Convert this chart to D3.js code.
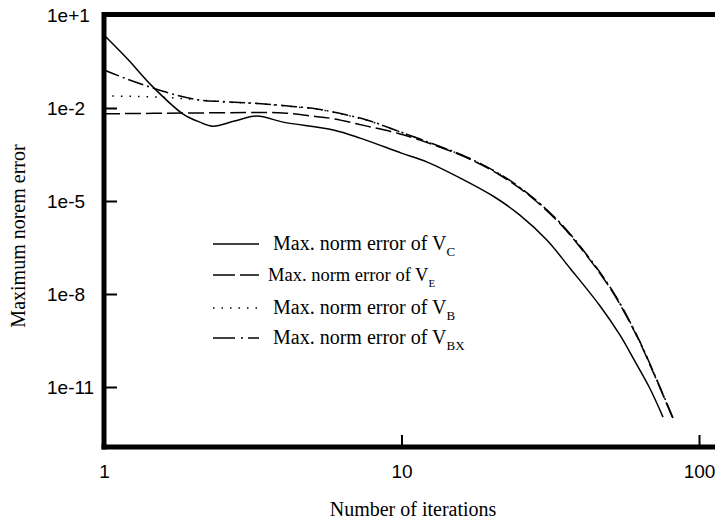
<!DOCTYPE html>
<html>
<head>
<meta charset="utf-8">
<script src="https://cdn.jsdelivr.net/npm/d3@7"></script>
<style>
  body { margin: 0; background: #fff; }
  svg { display: block; }
</style>
</head>
<body>
<div id="chart"></div>
<script>
// values
var iterC = [1, 1.2, 1.46, 1.84, 2.1, 2.32, 2.75, 3.27, 4, 5.9, 7.26, 10, 12.2, 16, 20.3, 25, 30.8, 36.8, 46.5, 54.2, 60, 68, 75.7];
var errC = [2.26, 0.38, 0.048, 6.5e-3, 3.5e-3, 2.6e-3, 3.8e-3, 5.5e-3, 3.5e-3, 1.95e-3, 1.07e-3, 3.5e-4, 1.8e-4, 5.1e-5, 1.45e-5, 3.5e-6, 5.5e-7, 6.9e-8, 4.1e-9, 4.8e-10, 8.7e-11, 1e-11, 1.07e-12];

var iterE = [1, 2, 3, 4, 5, 5.9, 7.65, 9.9, 12.8, 16.6, 21.4, 27, 34.2, 42, 51.5, 61.7, 70.8, 81.8];
var errE = [6.5e-3, 6.9e-3, 7.1e-3, 6.9e-3, 5.5e-3, 4.5e-3, 2.6e-3, 1.45e-3, 6.5e-4, 2.45e-4, 6.9e-5, 1.45e-5, 1.8e-6, 1.7e-7, 1.07e-8, 4.5e-10, 2.45e-11, 9.3e-13];

var iterB = [1, 1.46, 1.8, 2.1, 2.49, 3.1, 4, 5.2, 5.9, 7.65, 9.9, 12.8, 16.6, 21.4, 27, 34.2, 42, 51.5, 61.7, 70.8, 81.8];
var errB = [0.0245, 0.0229, 0.0204, 0.0182, 0.0158, 0.0143, 0.0118, 9.1e-3, 7.3e-3, 4.0e-3, 1.68e-3, 6.8e-4, 2.55e-4, 7.3e-5, 1.52e-5, 1.9e-6, 1.78e-7, 1.12e-8, 4.7e-10, 2.55e-11, 9.8e-13];

var iterBX = [1, 1.195, 1.46, 1.8, 2.1, 2.49, 3.1, 4, 5.2, 5.9, 7.65, 9.9, 12.8, 16.6, 21.4, 27, 34.2, 42, 51.5, 61.7, 70.8, 81.8];
var errBX = [0.168, 0.086, 0.0442, 0.0244, 0.0181, 0.0162, 0.0145, 0.012, 9.3e-3, 7.4e-3, 4.1e-3, 1.7e-3, 6.9e-4, 2.6e-4, 7.4e-5, 1.55e-5, 1.95e-6, 1.82e-7, 1.15e-8, 4.8e-10, 2.6e-11, 1e-12];

var xTicks = [1, 10, 100];
var xTickLabels = ["1", "10", "100"];
var yTicks = [1e1, 1e-2, 1e-5, 1e-8, 1e-11];
var yTickLabels = ["1e+1", "1e-2", "1e-5", "1e-8", "1e-11"];

var legendNames = ["C", "E", "B", "BX"];
var dashes = [null, "16,5", "1.5,7", "16,4,2,4"];

var width = 715;
var height = 523;

var svg = d3.select('#chart')
    .append('svg')
    .attr('width', width)
    .attr('height', height);

var x = d3.scaleLog().domain([1, 100]).range([104, 699]);
var y = d3.scaleLog().domain([1e-13, 10]).range([449, 15]);

// curves
var line = d3.line()
    .x(d => x(d[0]))
    .y(d => y(d[1]))
    .curve(d3.curveCatmullRom);

var series = [
    d3.zip(iterC, errC),
    d3.zip(iterE, errE),
    d3.zip(iterB, errB),
    d3.zip(iterBX, errBX)
];

svg.selectAll('path.curve')
    .data(series)
    .enter()
    .append('path')
    .attr('class', 'curve')
    .attr('d', d => line(d))
    .attr('fill', 'none')
    .attr('stroke', '#000')
    .attr('stroke-width', 1.5)
    .attr('stroke-dasharray', (d, i) => dashes[i]);

// axes
var yAxis = d3.axisRight(y)
    .tickValues(yTicks)
    .tickSize(13)
    .tickFormat((d, i) => yTickLabels[i]);

var gy = svg.append('g')
    .attr('transform', 'translate(104,0)')
    .call(yAxis);
gy.select('.domain').remove();
gy.selectAll('line').attr('stroke-width', 2);
gy.selectAll('text')
    .attr('x', -57)
    .attr('dy', '0.35em')
    .attr('text-anchor', 'start')
    .style('font-family', 'Liberation Sans, Arial, sans-serif')
    .style('font-size', '19px')
    .attr('fill', '#000');

var xAxis = d3.axisTop(x)
    .tickValues(xTicks)
    .tickSize(12)
    .tickFormat((d, i) => xTickLabels[i]);

var gx = svg.append('g')
    .attr('transform', 'translate(0,447)')
    .call(xAxis);
gx.select('.domain').remove();
gx.selectAll('line').attr('stroke-width', 2);
gx.selectAll('text')
    .attr('y', 24)
    .attr('dy', '0.35em')
    .style('font-family', 'Liberation Sans, Arial, sans-serif')
    .style('font-size', '19px')
    .attr('fill', '#000');

// frame
svg.append('line').attr('x1', 102).attr('x2', 715).attr('y1', 14.5).attr('y2', 14.5)
    .attr('stroke', '#000').attr('stroke-width', 5);
svg.append('line').attr('x1', 104).attr('x2', 104).attr('y1', 12).attr('y2', 449.5)
    .attr('stroke', '#000').attr('stroke-width', 5);
svg.append('line').attr('x1', 101.5).attr('x2', 715).attr('y1', 447).attr('y2', 447)
    .attr('stroke', '#000').attr('stroke-width', 5);

// titles
svg.append('text')
    .attr('x', 413)
    .attr('y', 516)
    .attr('text-anchor', 'middle')
    .style('font-family', 'Liberation Serif, Times New Roman, serif')
    .style('font-size', '20px')
    .text('Number of iterations');

svg.append('text')
    .attr('transform', 'translate(25,236) rotate(-90)')
    .attr('text-anchor', 'middle')
    .style('font-family', 'Liberation Serif, Times New Roman, serif')
    .style('font-size', '20px')
    .text('Maximum norem error');

// legend
var legendY = [244, 275, 308, 338];
var legendTextX = [273, 268, 273, 273];
var legendFont = [20, 18.5, 20, 20];

var legend = svg.selectAll('g.legend')
    .data(legendNames)
    .enter()
    .append('g')
    .attr('class', 'legend')
    .attr('transform', (d, i) => 'translate(0,' + legendY[i] + ')');

legend.append('line')
    .attr('x1', 213)
    .attr('x2', 259)
    .attr('stroke', '#000')
    .attr('stroke-width', 1.5)
    .attr('stroke-dasharray', (d, i) => i == 1 ? "22,5" : i == 3 ? "22,6,2,5,12" : dashes[i]);

var lt = legend.append('text')
    .attr('x', (d, i) => legendTextX[i])
    .attr('y', 6)
    .style('font-family', 'Liberation Serif, Times New Roman, serif')
    .style('font-size', (d, i) => legendFont[i] + 'px');

lt.append('tspan').text('Max. norm error of V');
lt.append('tspan')
    .attr('dy', 6)
    .style('font-size', (d, i) => (i == 1 ? 11 : 13) + 'px')
    .text(d => d);
</script>
</body>
</html>
